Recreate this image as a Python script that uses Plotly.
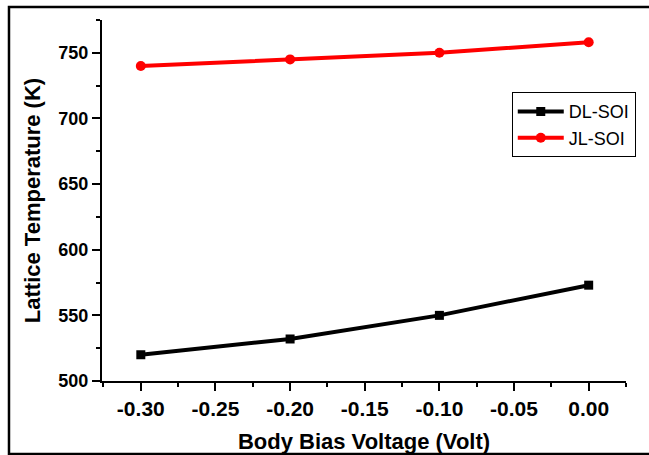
import plotly.graph_objects as go

x_vals = [-0.30, -0.20, -0.10, 0.00]
dl_soi = [520, 532, 550, 573]
jl_soi = [740, 745, 750, 758]
x_ticks = [-0.30, -0.25, -0.20, -0.15, -0.10, -0.05, 0.00]
x_tick_text = ["-0.30", "-0.25", "-0.20", "-0.15", "-0.10", "-0.05", "0.00"]
y_ticks = [500, 550, 600, 650, 700, 750]

FONT = "Liberation Sans, Arial, sans-serif"

fig = go.Figure()
fig.add_trace(go.Scatter(x=x_vals, y=dl_soi, mode="lines+markers", name="DL-SOI",
                         line=dict(color="black", width=4),
                         marker=dict(symbol="square", size=9, color="black")))
fig.add_trace(go.Scatter(x=x_vals, y=jl_soi, mode="lines+markers", name="JL-SOI",
                         line=dict(color="#ff0000", width=4),
                         marker=dict(symbol="circle", size=10, color="#ff0000")))

axis_common = dict(showgrid=False, zeroline=False, showline=True, linecolor="black",
                   linewidth=2, ticks="outside", ticklen=8, tickwidth=2, tickcolor="black",
                   mirror=False, automargin=False)

fig.update_layout(
    width=649, height=455,
    margin=dict(l=102, r=23, t=20, b=74),
    paper_bgcolor="white", plot_bgcolor="white",
    showlegend=True,
    legend=dict(x=0.782, y=0.80, xanchor="left", yanchor="top",
                bordercolor="black", borderwidth=1, bgcolor="white",
                font=dict(family=FONT, size=18, color="black"),
                tracegroupgap=0, itemwidth=46),
    xaxis=dict(range=[-0.326, 0.025], tickvals=x_ticks, ticktext=x_tick_text,
               tickfont=dict(family=FONT, size=21, color="black", weight="bold"),
               minor=dict(dtick=0.025, tick0=-0.325, ticks="outside", ticklen=4,
                          tickwidth=2, tickcolor="black"),
               title=dict(text="Body Bias Voltage (Volt)", standoff=14,
                          font=dict(family=FONT, size=22, color="black", weight="bold")),
               **axis_common),
    yaxis=dict(range=[500, 775], tickvals=y_ticks,
               tickfont=dict(family=FONT, size=18, color="black", weight="bold"),
               minor=dict(dtick=25, tick0=500, ticks="outside", ticklen=4,
                          tickwidth=2, tickcolor="black"),
               title=dict(text="Lattice Temperature (K)", standoff=12,
                          font=dict(family=FONT, size=22, color="black", weight="bold")),
               **axis_common),
)

fig.add_shape(type="rect", xref="paper", yref="paper",
              x0=-0.1775, x1=1.0496, y0=-0.2022, y1=1.036,
              line=dict(color="black", width=2.5), fillcolor="rgba(0,0,0,0)", layer="above")

fig.write_html("out.html")
